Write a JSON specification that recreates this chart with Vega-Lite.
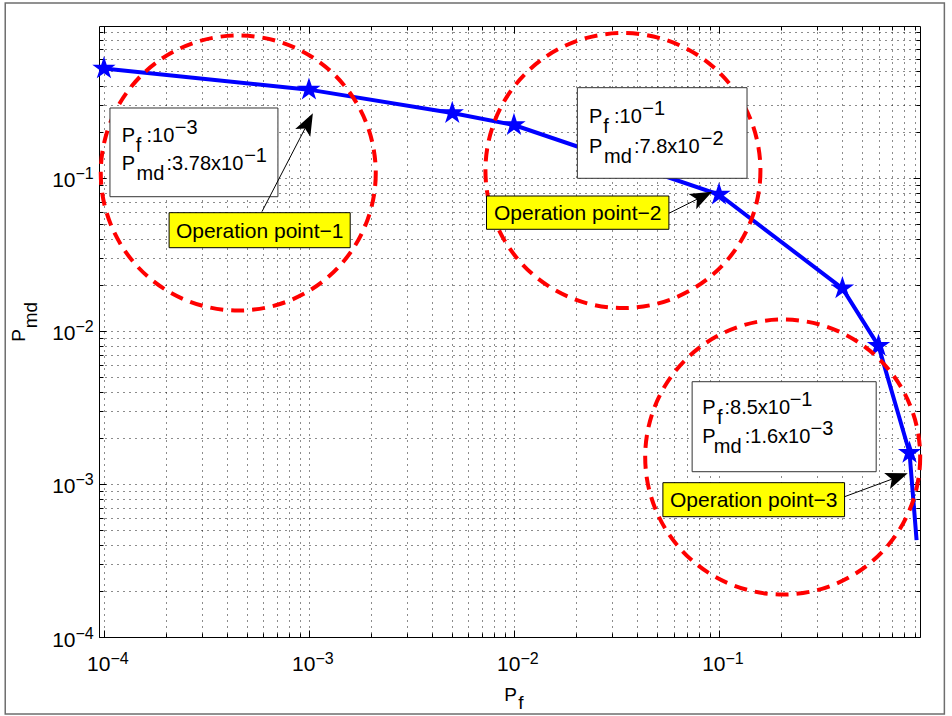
{
  "$schema": "https://vega.github.io/schema/vega-lite/v6.json",
  "width": 821,
  "height": 611,
  "autosize": "none",
  "padding": {"left": 99, "top": 26, "right": 32, "bottom": 79},
  "background": "white",
  "config": {
    "view": {"stroke": "#000", "strokeWidth": 1},
    "font": "Liberation Sans",
    "axis": {"labelFont": "Liberation Sans", "labelColor": "#000", "labelFontSize": 21, "tickColor": "#000", "domain": false, "title": null, "labelOverlap": false, "labelFlush": false, "labelBound": false}
  },
  "datasets": {
    "curve": [
      {"x": 0.0001, "y": 0.52},
      {"x": 0.001, "y": 0.378},
      {"x": 0.005, "y": 0.266},
      {"x": 0.01, "y": 0.222},
      {"x": 0.1, "y": 0.078},
      {"x": 0.4, "y": 0.019},
      {"x": 0.6, "y": 0.008},
      {"x": 0.85, "y": 0.0016},
      {"x": 0.92, "y": 0.00043}
    ],
    "frame": [{"x": 3.3e-5, "x2": 1.257, "y": 1.393, "y2": 3.138e-5}],
    "circles": [
      {"x": 0.000452, "y": 0.1078},
      {"x": 0.034, "y": 0.1119},
      {"x": 0.2045, "y": 0.001501}
    ],
    "boxes": [
      {"x": 0.000107, "x2": 0.0007057, "y": 0.2868, "y2": 0.07545},
      {"x": 0.02038, "x2": 0.137, "y": 0.3893, "y2": 0.09954},
      {"x": 0.07396, "x2": 0.5844, "y": 0.004662, "y2": 0.001203}
    ],
    "boxtext": [
      {"x": 0.000122, "y": 0.1727, "t": "P"},
      {"x": 0.0001431, "y": 0.1485, "t": "f"},
      {"x": 0.0001614, "y": 0.1727, "t": ":10"},
      {"x": 0.0002217, "y": 0.1948, "t": "−3"},
      {"x": 0.000122, "y": 0.1128, "t": "P"},
      {"x": 0.0001442, "y": 0.09703, "t": "md"},
      {"x": 0.000202, "y": 0.1128, "t": ":3.78x10"},
      {"x": 0.0004831, "y": 0.1272, "t": "−1"},
      {"x": 0.02323, "y": 0.2298, "t": "P"},
      {"x": 0.02727, "y": 0.1977, "t": "f"},
      {"x": 0.03075, "y": 0.2298, "t": ":10"},
      {"x": 0.04223, "y": 0.2593, "t": "−1"},
      {"x": 0.02323, "y": 0.145, "t": "P"},
      {"x": 0.02748, "y": 0.1248, "t": "md"},
      {"x": 0.03847, "y": 0.145, "t": ":7.8x10"},
      {"x": 0.08154, "y": 0.1636, "t": "−2"},
      {"x": 0.08277, "y": 0.002855, "t": "P"},
      {"x": 0.0979, "y": 0.002457, "t": "f"},
      {"x": 0.1064, "y": 0.002855, "t": ":8.5x10"},
      {"x": 0.2212, "y": 0.00322, "t": "−1"},
      {"x": 0.08277, "y": 0.001845, "t": "P"},
      {"x": 0.09434, "y": 0.001588, "t": "md"},
      {"x": 0.1335, "y": 0.001845, "t": ":1.6x10"},
      {"x": 0.2798, "y": 0.002081, "t": "−3"}
    ],
    "arrows": [
      {"x": 0.0005898, "y": 0.06022, "x2": 0.000957, "y2": 0.211, "tx": 0.001045, "ty": 0.2648, "heading": 27.4},
      {"x": 0.05697, "y": 0.0588, "x2": 0.07806, "y2": 0.07257, "tx": 0.09256, "ty": 0.08136, "heading": 63.5},
      {"x": 0.4098, "y": 0.000826, "x2": 0.6969, "y2": 0.001075, "tx": 0.833, "ty": 0.001174, "heading": 69.7}
    ],
    "labels": [
      {"x": 0.0002079, "x2": 0.001589, "y": 0.05933, "y2": 0.03503, "cx": 0.0005748, "cy": 0.04066, "t": "Operation point−1"},
      {"x": 0.007346, "x2": 0.05697, "y": 0.07626, "y2": 0.04621, "cx": 0.02047, "cy": 0.05299, "t": "Operation point−2"},
      {"x": 0.05326, "x2": 0.4098, "y": 0.00102, "y2": 0.0006113, "cx": 0.1477, "cy": 0.0007041, "t": "Operation point−3"}
    ],
    "ytitle": [
      {"x": 4.124e-5, "y": 0.008511, "t": "P"},
      {"x": 4.734e-5, "y": 0.01041, "t": "md"}
    ],
    "xtitle": [
      {"x": 0.008961, "y": 3.817e-5, "t": "P"},
      {"x": 0.01048, "y": 3.383e-5, "t": "f"}
    ]
  },
  "encoding": {
    "x": {"field": "x", "type": "quantitative", "scale": {"type": "log", "domain": [9.46e-5, 0.956], "nice": false}, "axis": null},
    "y": {"field": "y", "type": "quantitative", "scale": {"type": "log", "domain": [0.0001, 0.985], "nice": false}, "axis": null}
  },
  "layer": [
    {
      "data": {"name": "frame"},
      "mark": {"type": "rect", "filled": false, "stroke": "#6e6e6e", "strokeWidth": 1.5, "clip": false},
      "encoding": {"x2": {"field": "x2"}, "y2": {"field": "y2"}}
    },
    {
      "data": {"name": "curve"},
      "mark": {"type": "line", "color": "#0000ff", "strokeWidth": 4},
      "encoding": {
        "x": {"field": "x", "type": "quantitative", "scale": {"type": "log", "domain": [9.46e-5, 0.956], "nice": false},
          "axis": {"orient": "bottom", "values": [0.0001,0.0002,0.0003,0.0004,0.0005,0.0006,0.0007,0.0008,0.0009,0.001,0.002,0.003,0.004,0.005,0.006,0.007,0.008,0.009,0.01,0.02,0.03,0.04,0.05,0.06,0.07,0.08,0.09,0.1,0.2,0.3,0.4,0.5,0.6,0.7,0.8,0.9],
            "labels": false,
            "grid": true, "gridDash": [1, 5], "gridColor": "#000", "gridOpacity": 0.9,
            "tickSize": {"condition": {"test": "abs(log(datum.value)/LN10 - round(log(datum.value)/LN10)) < 0.001", "value": -7}, "value": -4}}},
        "y": {"field": "y", "type": "quantitative", "scale": {"type": "log", "domain": [0.0001, 0.985], "nice": false},
          "axis": {"orient": "left", "values": [0.0001,0.0002,0.0003,0.0004,0.0005,0.0006,0.0007,0.0008,0.0009,0.001,0.002,0.003,0.004,0.005,0.006,0.007,0.008,0.009,0.01,0.02,0.03,0.04,0.05,0.06,0.07,0.08,0.09,0.1,0.2,0.3,0.4,0.5,0.6,0.7,0.8,0.9],
            "labels": false,
            "grid": true, "gridDash": [1, 5], "gridColor": "#000", "gridOpacity": 0.9,
            "tickSize": {"condition": {"test": "abs(log(datum.value)/LN10 - round(log(datum.value)/LN10)) < 0.001", "value": -7}, "value": -4}}}
      }
    },
    {
      "data": {"name": "curve"},
      "transform": [{"filter": "datum.x < 0.9"}],
      "mark": {"type": "point", "shape": "M0,-1L0.2245,-0.309L0.951,-0.309L0.363,0.118L0.588,0.809L0,0.382L-0.588,0.809L-0.363,0.118L-0.951,-0.309L-0.2245,-0.309Z", "size": 600, "filled": true, "color": "#0000ff", "opacity": 1},
      "encoding": {
        "x": {"field": "x", "type": "quantitative", "scale": {"type": "log", "domain": [9.46e-5, 0.956], "nice": false},
          "axis": {"orient": "top", "values": [0.0001,0.0002,0.0003,0.0004,0.0005,0.0006,0.0007,0.0008,0.0009,0.001,0.002,0.003,0.004,0.005,0.006,0.007,0.008,0.009,0.01,0.02,0.03,0.04,0.05,0.06,0.07,0.08,0.09,0.1,0.2,0.3,0.4,0.5,0.6,0.7,0.8,0.9],
            "labels": false, "grid": false,
            "tickSize": {"condition": {"test": "abs(log(datum.value)/LN10 - round(log(datum.value)/LN10)) < 0.001", "value": -7}, "value": -4}}},
        "y": {"field": "y", "type": "quantitative", "scale": {"type": "log", "domain": [0.0001, 0.985], "nice": false},
          "axis": {"orient": "right", "values": [0.0001,0.0002,0.0003,0.0004,0.0005,0.0006,0.0007,0.0008,0.0009,0.001,0.002,0.003,0.004,0.005,0.006,0.007,0.008,0.009,0.01,0.02,0.03,0.04,0.05,0.06,0.07,0.08,0.09,0.1,0.2,0.3,0.4,0.5,0.6,0.7,0.8,0.9],
            "labels": false, "grid": false,
            "tickSize": {"condition": {"test": "abs(log(datum.value)/LN10 - round(log(datum.value)/LN10)) < 0.001", "value": -7}, "value": -4}}}
      }
    },
    {
      "data": {"name": "circles"},
      "mark": {"type": "point", "shape": "circle", "size": 75625, "filled": false, "stroke": "#ff0000", "strokeWidth": 4, "strokeDash": [13, 8], "opacity": 1},
      "encoding": {
        "x": {"field": "x", "type": "quantitative", "scale": {"type": "log", "domain": [9.46e-5, 0.956], "nice": false},
          "axis": {"orient": "bottom", "values": [0.0001, 0.001, 0.01, 0.1], "labelExpr": "'10'", "ticks": false, "tickSize": 0, "grid": false,
            "labelAlign": "right", "labelBaseline": "alphabetic", "labelOffset": 6, "labelPadding": 33}},
        "y": {"field": "y", "type": "quantitative", "scale": {"type": "log", "domain": [0.0001, 0.985], "nice": false},
          "axis": {"orient": "left", "values": [0.0001, 0.001, 0.01, 0.1], "labelExpr": "'10'", "ticks": false, "tickSize": 0, "grid": false,
            "labelAlign": "right", "labelBaseline": "alphabetic", "labelOffset": 9, "labelPadding": 24}}
      }
    },
    {
      "data": {"name": "boxes"},
      "mark": {"type": "rect", "fill": "#ffffff", "stroke": "#333333", "strokeWidth": 1},
      "encoding": {
        "x": {"field": "x", "type": "quantitative", "scale": {"type": "log", "domain": [9.46e-5, 0.956], "nice": false},
          "axis": {"orient": "bottom", "values": [0.0001, 0.001, 0.01, 0.1],
            "labelExpr": "datum.value == 0.0001 ? '−4' : datum.value == 0.001 ? '−3' : datum.value == 0.01 ? '−2' : '−1'",
            "ticks": false, "tickSize": 0, "grid": false, "labelFontSize": 16,
            "labelAlign": "left", "labelBaseline": "alphabetic", "labelOffset": 6, "labelPadding": 26}},
        "y": {"field": "y", "type": "quantitative", "scale": {"type": "log", "domain": [0.0001, 0.985], "nice": false},
          "axis": {"orient": "left", "values": [0.0001, 0.001, 0.01, 0.1],
            "labelExpr": "datum.value == 0.0001 ? '−4' : datum.value == 0.001 ? '−3' : datum.value == 0.01 ? '−2' : '−1'",
            "ticks": false, "tickSize": 0, "grid": false, "labelFontSize": 16,
            "labelAlign": "left", "labelBaseline": "alphabetic", "labelOffset": 1, "labelPadding": 24}},
        "x2": {"field": "x2"}, "y2": {"field": "y2"}
      }
    },
    {
      "data": {"name": "boxtext"},
      "mark": {"type": "text", "align": "left", "baseline": "alphabetic", "fontSize": 20, "font": "Liberation Sans", "color": "#000"},
      "encoding": {"text": {"field": "t"}}
    },
    {
      "data": {"name": "arrows"},
      "mark": {"type": "rule", "color": "#000", "strokeWidth": 1},
      "encoding": {"x2": {"field": "x2"}, "y2": {"field": "y2"}}
    },
    {
      "data": {"name": "arrows"},
      "mark": {"type": "point", "shape": "M0,0L0.85,2.2L0,1.7L-0.85,2.2Z", "size": 400, "filled": true, "color": "#000", "opacity": 1},
      "encoding": {
        "x": {"field": "tx", "type": "quantitative", "scale": {"type": "log", "domain": [9.46e-5, 0.956], "nice": false}, "axis": null},
        "y": {"field": "ty", "type": "quantitative", "scale": {"type": "log", "domain": [0.0001, 0.985], "nice": false}, "axis": null},
        "angle": {"field": "heading", "type": "quantitative", "scale": null}
      }
    },
    {
      "data": {"name": "labels"},
      "mark": {"type": "rect", "fill": "#ffff00", "stroke": "#000", "strokeWidth": 1},
      "encoding": {"x2": {"field": "x2"}, "y2": {"field": "y2"}}
    },
    {
      "data": {"name": "labels"},
      "mark": {"type": "text", "align": "center", "baseline": "alphabetic", "fontSize": 21, "font": "Liberation Sans", "color": "#000"},
      "encoding": {
        "x": {"field": "cx", "type": "quantitative", "scale": {"type": "log", "domain": [9.46e-5, 0.956], "nice": false}, "axis": null},
        "y": {"field": "cy", "type": "quantitative", "scale": {"type": "log", "domain": [0.0001, 0.985], "nice": false}, "axis": null},
        "text": {"field": "t"}
      }
    },
    {
      "data": {"name": "ytitle"},
      "mark": {"type": "text", "align": "left", "baseline": "alphabetic", "angle": 270, "fontSize": 19, "font": "Liberation Sans", "color": "#000", "clip": false},
      "encoding": {"text": {"field": "t"}}
    },
    {
      "data": {"name": "xtitle"},
      "mark": {"type": "text", "align": "left", "baseline": "alphabetic", "fontSize": 19, "font": "Liberation Sans", "color": "#000", "clip": false},
      "encoding": {"text": {"field": "t"}}
    }
  ],
  "resolve": {"axis": {"x": "independent", "y": "independent"}}
}
